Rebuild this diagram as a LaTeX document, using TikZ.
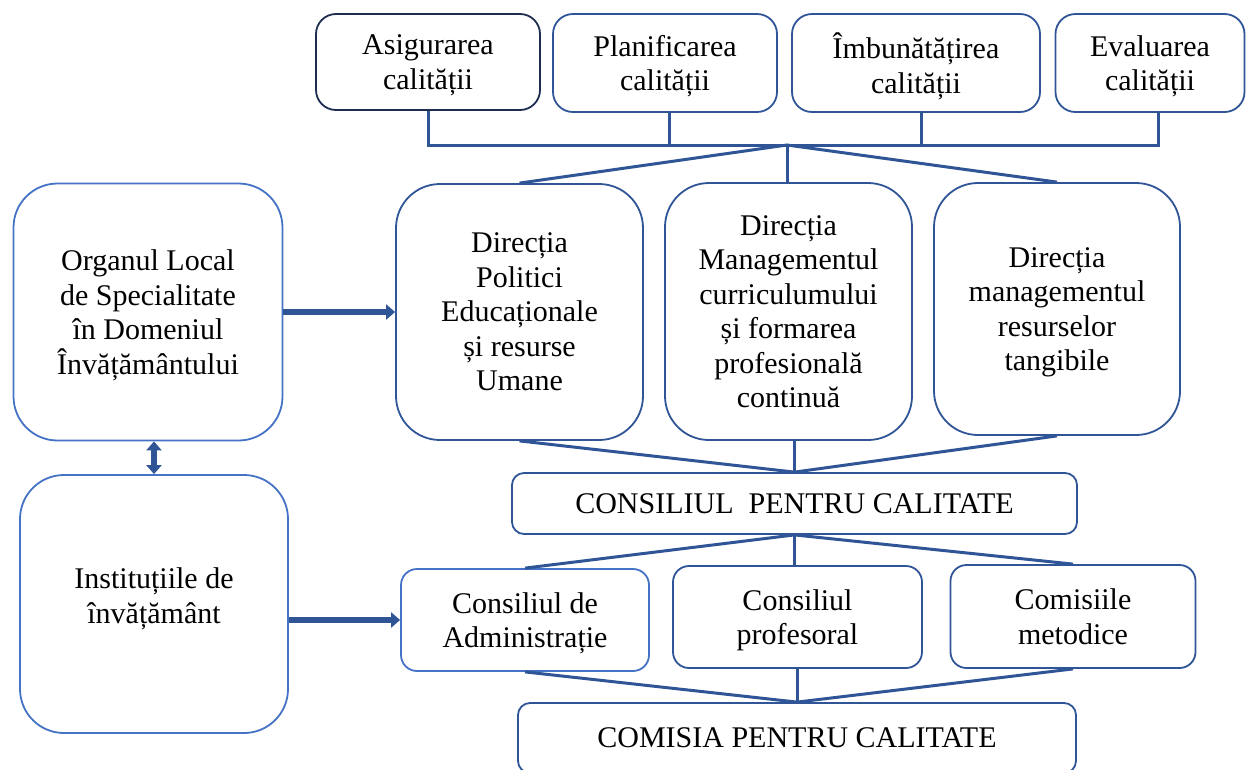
\documentclass[tikz,border=0pt]{standalone}
\usepackage{fontspec}
\setmainfont{Liberation Serif}
\usetikzlibrary{arrows.meta}
\definecolor{lineblue}{RGB}{47,85,151}
\definecolor{lightblue}{RGB}{68,114,196}
\definecolor{darkblue}{RGB}{30,45,80}

\begin{document}
\begin{tikzpicture}[
		x=1pt, y=-1pt,
		box/.style={draw=lineblue, line width=1.8pt, rounded corners=#1, align=center,
			inner sep=0pt, text depth=0pt, font=\fontsize{30}{34.5}\selectfont},
		box/.default=16pt,
		link/.style={draw=lineblue, line width=3pt},
		fat/.style={draw=lineblue, line width=6pt},
		>={Triangle[width=15pt,length=9pt]}]
	\useasboundingbox (0,0) rectangle (1247,769);
	%% top row
	\node (asig) at (428,62) [box=20pt, draw=darkblue, minimum width=224, minimum height=96] {Asigurarea\\calității};
	\node (plan) at (665,63) [box=20pt, minimum width=224, minimum height=98] {Planificarea\\calității};
	\node (imbu) at (916,63) [box=20pt, minimum width=248, minimum height=98] {Îmbunătățirea\\calității};
	\node (eval) at (1150,63) [box=20pt, minimum width=189, minimum height=98] {Evaluarea\\calității};
	%% left column
	\node (org) at (148,312) [box=44pt, draw=lightblue, minimum width=269, minimum height=257] {Organul Local\\de Specialitate\\în Domeniul\\Învățământului};
	\node (inst) at (154,604) [box=44pt, draw=lightblue, text depth=17pt, minimum width=268, minimum height=258] {Instituțiile de\\învățământ};
	%% directions
	\node (dir1) at (519.5,312) [box=44pt, minimum width=247, minimum height=256] {Direcția\\Politici\\Educaționale\\și resurse\\Umane};
	\node (dir2) at (788.5,311.5) [box=44pt, minimum width=247, minimum height=257] {Direcția\\Managementul\\curriculumului\\și formarea\\profesională\\continuă};
	\node (dir3) at (1057,309) [box=44pt, minimum width=246, minimum height=252] {Direcția\\managementul\\resurselor\\tangibile};
	\node (cons) at (794.5,503.5) [box=12pt, minimum width=565, minimum height=61] {CONSILIUL~ PENTRU CALITATE};
	%% councils
	\node (cadm) at (525,620) [box, draw=lightblue, minimum width=248, minimum height=102] {Consiliul de\\Administrație};
	\node (cprof) at (797.5,617) [box, minimum width=249, minimum height=102] {Consiliul\\profesoral};
	\node (comis) at (1073,616.5) [box, minimum width=245, minimum height=103] {Comisiile\\metodice};
	\node (comisia) at (797,738) [box=12pt, minimum width=558, minimum height=70] {COMISIA PENTRU CALITATE};
	%% top bus
	\coordinate (hub) at (787,145);
	\draw[link] (asig.south) |- ([xshift=8]eval.south |- hub) -- ([xshift=8]eval.south);
	\draw[link] ([xshift=4]plan.south) -- ([xshift=4]plan.south |- hub);
	\draw[link] ([xshift=5]imbu.south) -- ([xshift=5]imbu.south |- hub);
	\draw[link] (dir1.north) -- (hub) -- (dir3.north);
	\draw[link] (hub) -- (hub |- dir2.north);
	%% down to the councils
	\draw[link] (dir1.south) -- (cons.north) -- (dir3.south);
	\draw[link] (dir2.south -| cons.north) -- (cons.north);
	\draw[link] (cadm.north) -- (cons.south) -- (comis.north);
	\draw[link] (cons.south) -- (cons.south |- cprof.north);
	\draw[link] (cadm.south) -- (comisia.north) -- (comis.south);
	\draw[link] (comisia.north |- cprof.south) -- (comisia.north);
	%% arrows
	\draw[fat,->] (org.east) -- (dir1.west);
	\draw[fat,<->] (inst.north |- org.south) -- (inst.north);
	\draw[fat,->] (cadm.west -| inst.east) -- (cadm.west);
\end{tikzpicture}
\end{document}
